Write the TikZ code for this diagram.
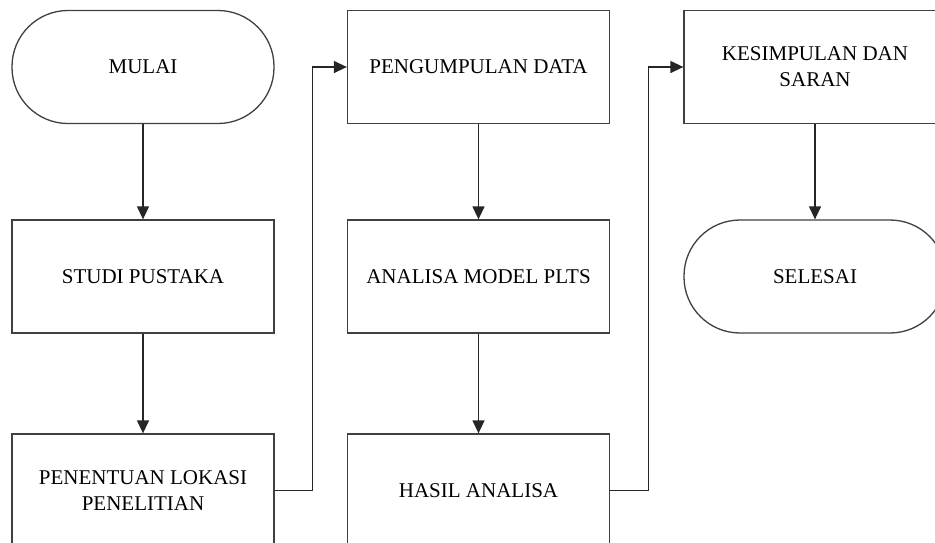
\documentclass[tikz,border=0pt]{standalone}
\usepackage{fontspec}
\setmainfont{Liberation Serif}
\usetikzlibrary{arrows.meta}
\tikzset{every picture/.style={line width=1.3pt, draw=black!75}}
\tikzset{kotak/.style={draw=black!75, rectangle, minimum width=262pt, minimum height=113pt,
  align=center, font=\fontsize{21}{26}\selectfont, inner sep=2pt}}
\tikzset{terminal/.style={kotak, rounded corners=56pt}}
\tikzset{panah/.style={-{Triangle[width=12pt,length=13pt]}, draw=black!85}}

\begin{document}
\begin{tikzpicture}[x=1pt,y=-1pt]
\clip (0,0) rectangle (935,542);
\useasboundingbox (0,0) rectangle (935,542);
\node[terminal] (mulai) at (143,67) {MULAI};
\node[kotak] (studi) at (143,276.5) {STUDI PUSTAKA};
\node[kotak] (lokasi) at (143,490.5) {PENENTUAN LOKASI\\PENELITIAN};
\node[kotak] (data) at (478.5,67) {PENGUMPULAN DATA};
\node[kotak] (model) at (478.5,276.5) {ANALISA MODEL PLTS};
\node[kotak] (hasil) at (478.5,490.5) {HASIL ANALISA};
\node[kotak] (saran) at (815,67) {KESIMPULAN DAN\\SARAN};
\node[terminal] (selesai) at (815,276.5) {SELESAI};
\foreach \a/\b in {mulai/studi, studi/lokasi, data/model, model/hasil, saran/selesai}
  \draw[panah] (\a) -- (\b);
\draw[panah] (lokasi.east) -- ++(38,0) |- (data.west);
\draw[panah] (hasil.east) -- ++(38,0) |- (saran.west);
\end{tikzpicture}
\end{document}
